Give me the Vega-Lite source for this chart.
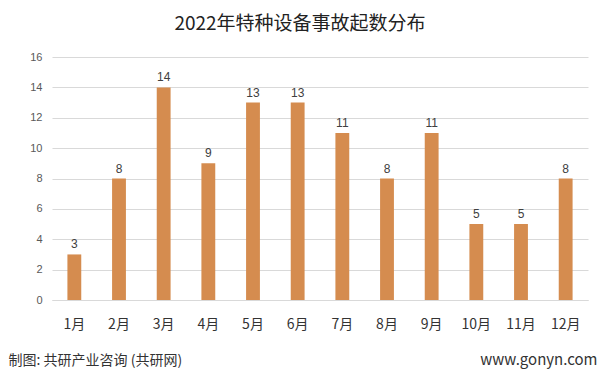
{
  "$schema": "https://vega.github.io/schema/vega-lite/v6.json",
  "width": 536,
  "height": 243,
  "autosize": "none",
  "padding": {"left": 52, "top": 57, "right": 13, "bottom": 73},
  "background": "white",
  "title": {
    "text": "2022年特种设备事故起数分布",
    "font": "Noto Sans CJK SC",
    "fontSize": 19,
    "fontWeight": "normal",
    "color": "#222222",
    "anchor": "middle",
    "dx": -20,
    "offset": 17
  },
  "data": {
    "values": [
      {"month": "1月", "count": 3},
      {"month": "2月", "count": 8},
      {"month": "3月", "count": 14},
      {"month": "4月", "count": 9},
      {"month": "5月", "count": 13},
      {"month": "6月", "count": 13},
      {"month": "7月", "count": 11},
      {"month": "8月", "count": 8},
      {"month": "9月", "count": 11},
      {"month": "10月", "count": 5},
      {"month": "11月", "count": 5},
      {"month": "12月", "count": 8}
    ]
  },
  "encoding": {
    "x": {
      "field": "month",
      "type": "nominal",
      "sort": null,
      "scale": {"paddingInner": 0.69, "paddingOuter": 0.345},
      "axis": {
        "title": "制图: 共研产业咨询 (共研网)",
        "titleFont": "Noto Sans CJK SC",
        "titleFontSize": 14,
        "titleFontWeight": "normal",
        "titleColor": "#333333",
        "titleAnchor": "start",
        "titleAlign": "left",
        "titleBaseline": "middle",
        "titleX": -44,
        "titleY": 60,
        "labelAngle": 0,
        "labelFont": "Noto Sans CJK SC",
        "labelFontSize": 14,
        "labelColor": "#333333",
        "labelPadding": 17,
        "ticks": false,
        "domainColor": "#d9d9d9",
        "domainWidth": 1
      }
    },
    "y": {
      "field": "count",
      "type": "quantitative",
      "scale": {"domain": [0, 16], "nice": false},
      "axis": {
        "values": [0, 2, 4, 6, 8, 10, 12, 14, 16],
        "title": "www.gonyn.com",
        "titleFont": "Noto Sans CJK SC",
        "titleFontSize": 15,
        "titleFontWeight": "normal",
        "titleColor": "#333333",
        "titleAngle": 0,
        "titleAlign": "right",
        "titleBaseline": "middle",
        "titleX": 545,
        "titleY": 302,
        "labelFont": "Liberation Sans",
        "labelFontSize": 11,
        "labelColor": "#595959",
        "labelPadding": 10,
        "ticks": false,
        "domain": false,
        "gridColor": "#d9d9d9",
        "gridWidth": 1
      }
    }
  },
  "layer": [
    {"mark": {"type": "bar", "color": "#D58C4F"}},
    {
      "mark": {
        "type": "text",
        "dy": -10,
        "font": "Liberation Sans",
        "fontSize": 12,
        "color": "#404040"
      },
      "encoding": {"text": {"field": "count", "type": "quantitative"}}
    }
  ],
  "config": {"view": {"stroke": null}}
}
